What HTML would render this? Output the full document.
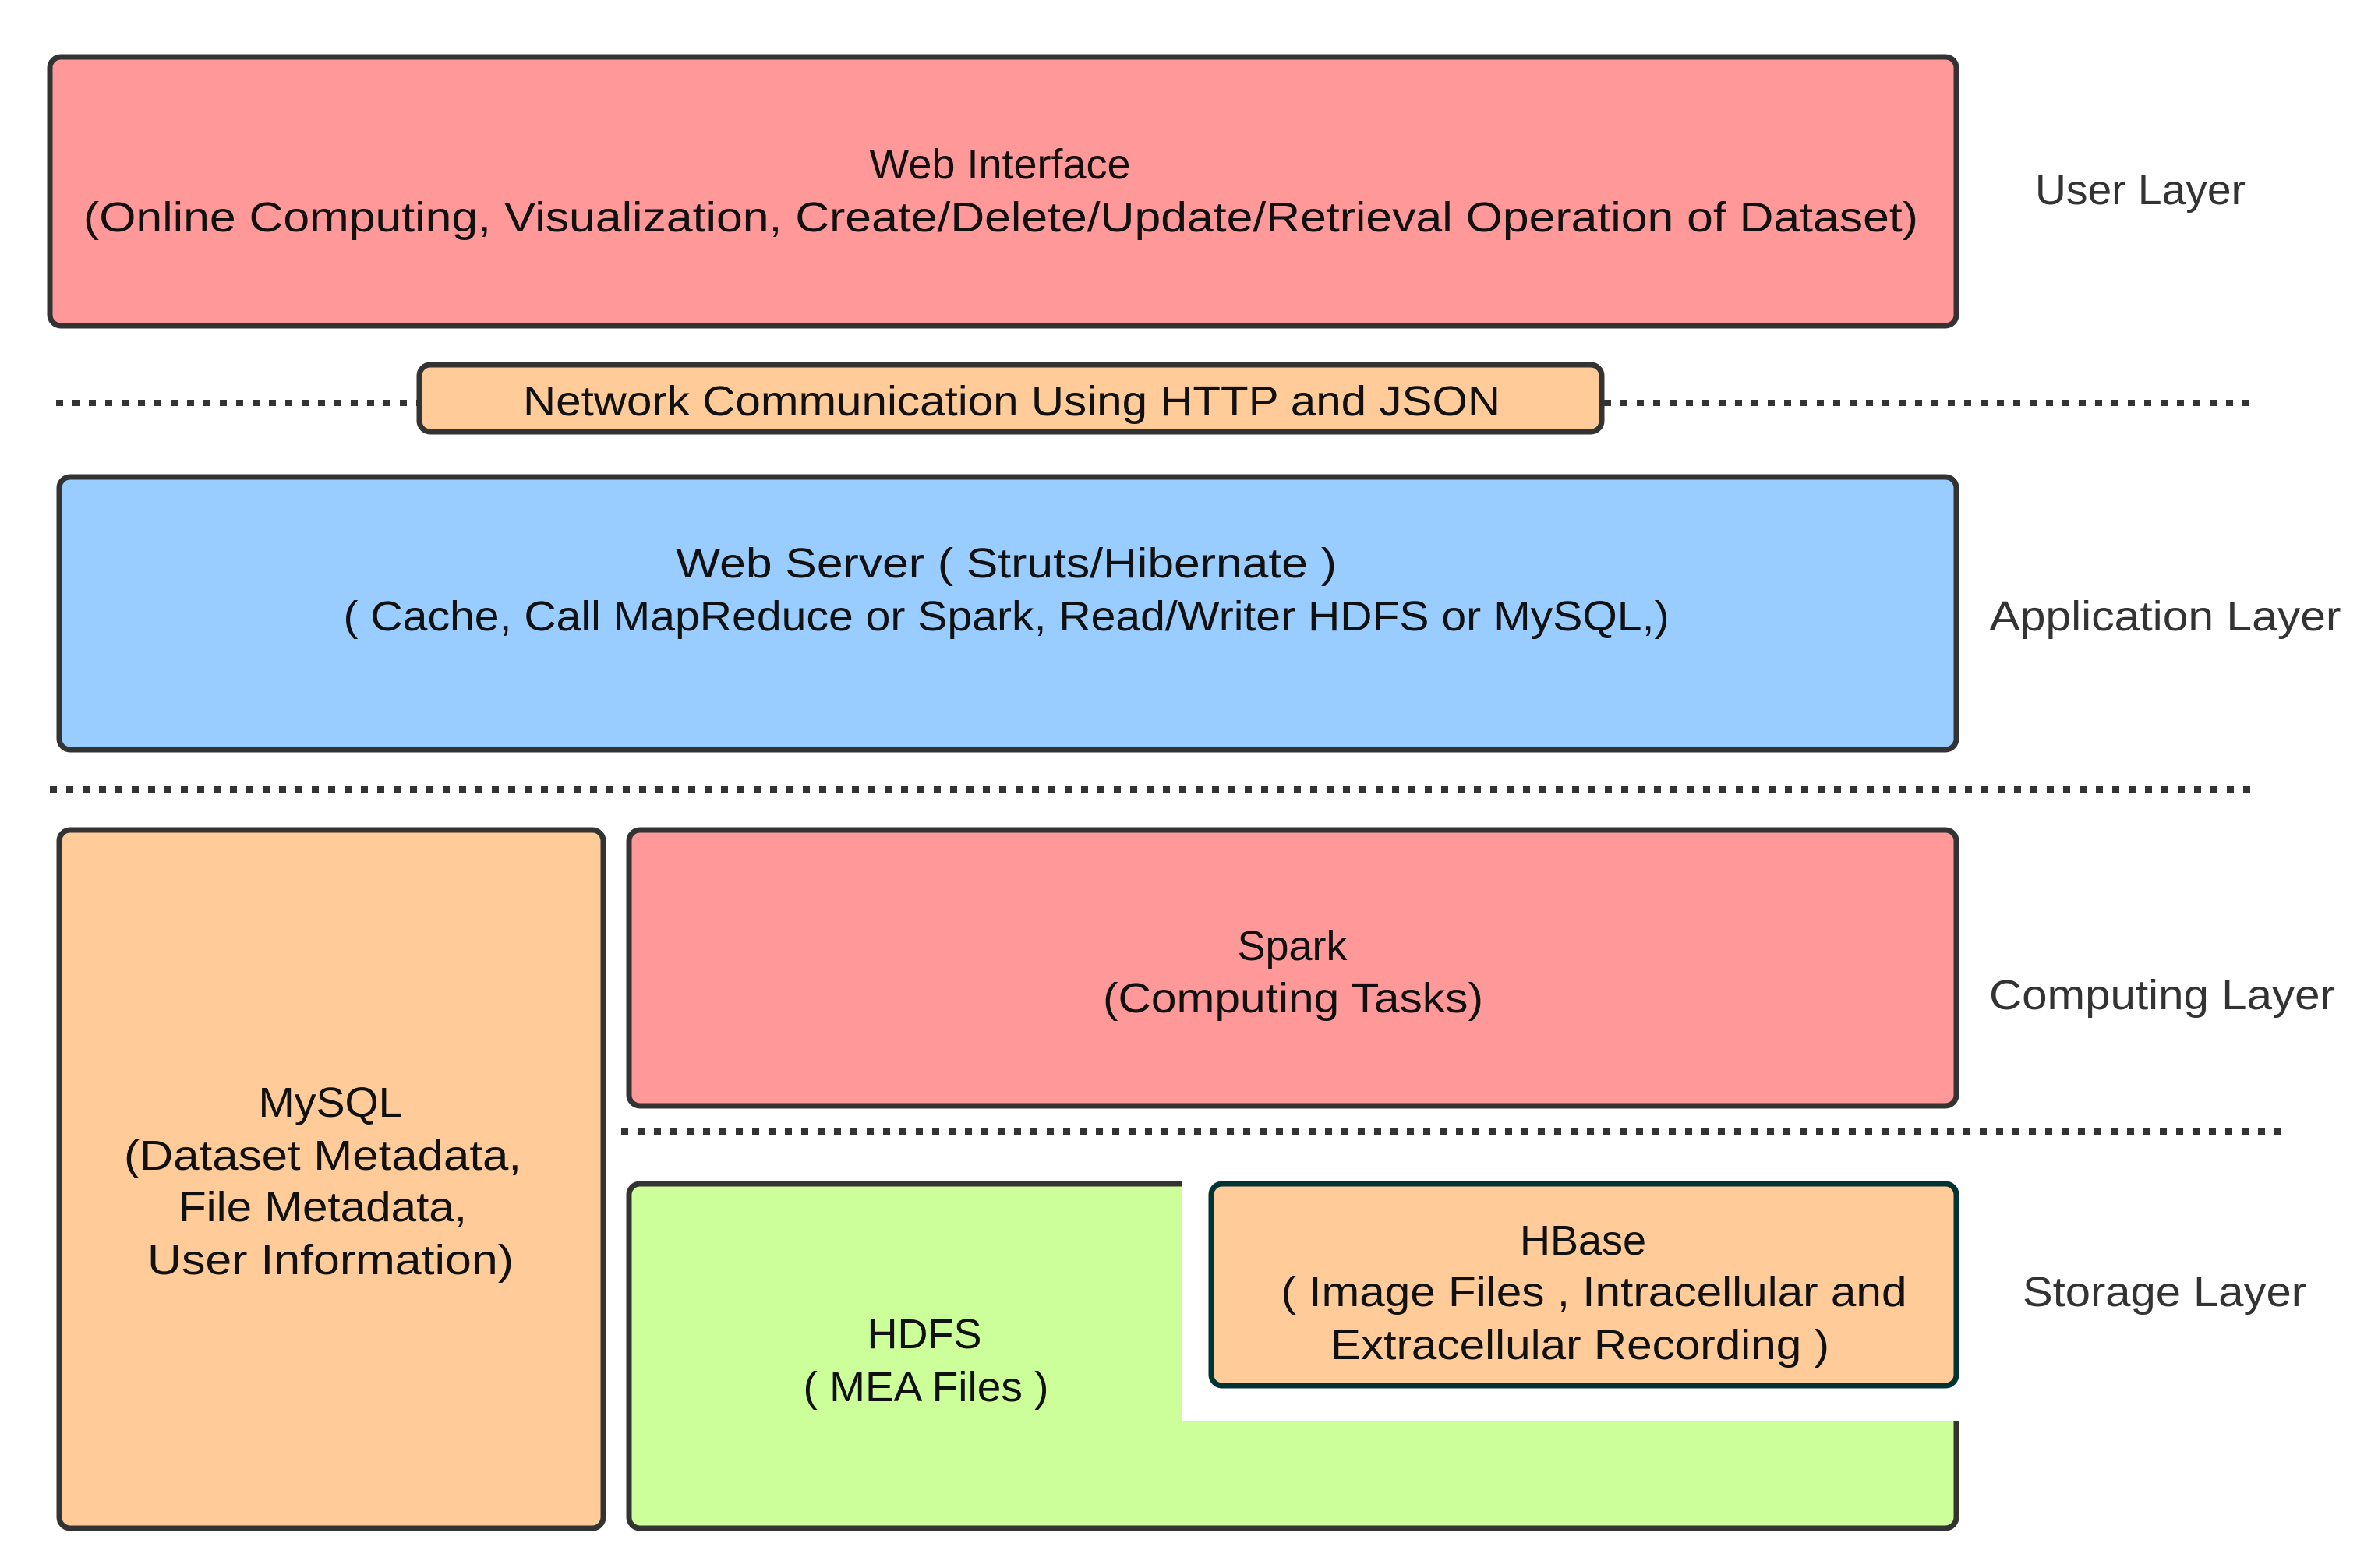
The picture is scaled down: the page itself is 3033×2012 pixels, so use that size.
<!DOCTYPE html>
<html><head><meta charset="utf-8"><style>
html,body{margin:0;padding:0;background:#fff;}
svg{display:block;}
text{font-family:"Liberation Sans",sans-serif;fill:#111;}
.lbl{fill:#333;}
</style></head><body>
<svg width="3033" height="2012" viewBox="0 0 3033 2012" xmlns="http://www.w3.org/2000/svg">
<rect width="3033" height="2012" fill="#fff"/>
<g stroke="#333" stroke-width="8" stroke-dasharray="9 12" fill="none">
<line x1="72" y1="517" x2="536" y2="517"/>
<line x1="2058" y1="517" x2="2897" y2="517"/>
<line x1="64" y1="1013" x2="2897" y2="1013"/>
<line x1="797" y1="1452" x2="2932" y2="1452"/>
</g>
<g stroke="#333" stroke-width="7">
<rect x="64" y="73" width="2446" height="345" rx="14" fill="#FF9999"/>
<rect x="538" y="468" width="1517" height="86" rx="14" fill="#FFCC99"/>
<rect x="76" y="612" width="2434" height="350" rx="14" fill="#99CCFF"/>
<rect x="76" y="1065" width="698" height="896" rx="14" fill="#FFCC99"/>
<rect x="807" y="1065" width="1703" height="354" rx="14" fill="#FF9999"/>
<rect x="807" y="1519" width="1703" height="442" rx="14" fill="#CCFF99"/>
</g>
<rect x="1516" y="1510" width="1000" height="313" fill="#fff"/>
<rect x="1554" y="1519" width="956" height="259" rx="14" fill="#FFCC99" stroke="#003333" stroke-width="7"/>
<g font-size="54" text-anchor="middle">
<text x="1283" y="229">Web Interface</text>
<text x="1284" y="297" textLength="2354" lengthAdjust="spacingAndGlyphs">(Online Computing, Visualization, Create/Delete/Update/Retrieval Operation of Dataset)</text>
<text x="1298" y="533" textLength="1254" lengthAdjust="spacingAndGlyphs">Network Communication Using HTTP and JSON</text>
<text x="1291" y="741" textLength="848" lengthAdjust="spacingAndGlyphs">Web Server ( Struts/Hibernate )</text>
<text x="1291" y="809" textLength="1701" lengthAdjust="spacingAndGlyphs">( Cache, Call MapReduce or Spark, Read/Writer HDFS or MySQL,)</text>
<text x="1658" y="1232">Spark</text>
<text x="1659" y="1299" textLength="488" lengthAdjust="spacingAndGlyphs">(Computing Tasks)</text>
<text x="424" y="1433" textLength="185" lengthAdjust="spacingAndGlyphs">MySQL</text>
<text x="414" y="1501" textLength="510" lengthAdjust="spacingAndGlyphs">(Dataset Metadata,</text>
<text x="414" y="1567" textLength="370" lengthAdjust="spacingAndGlyphs">File Metadata,</text>
<text x="424" y="1635" textLength="470" lengthAdjust="spacingAndGlyphs">User Information)</text>
<text x="1186" y="1730">HDFS</text>
<text x="1188" y="1798" textLength="315" lengthAdjust="spacingAndGlyphs">( MEA Files )</text>
<text x="2031" y="1610">HBase</text>
<text x="2045" y="1676" textLength="803" lengthAdjust="spacingAndGlyphs">( Image Files , Intracellular and</text>
<text x="2027" y="1744" textLength="640" lengthAdjust="spacingAndGlyphs">Extracellular Recording )</text>
</g>
<g font-size="54" text-anchor="middle" class="lbl">
<text class="lbl" x="2746" y="262" textLength="270" lengthAdjust="spacingAndGlyphs">User Layer</text>
<text class="lbl" x="2778" y="809" textLength="451" lengthAdjust="spacingAndGlyphs">Application Layer</text>
<text class="lbl" x="2774" y="1295" textLength="444" lengthAdjust="spacingAndGlyphs">Computing Layer</text>
<text class="lbl" x="2777" y="1676" textLength="364" lengthAdjust="spacingAndGlyphs">Storage Layer</text>
</g>
</svg>
</body></html>
